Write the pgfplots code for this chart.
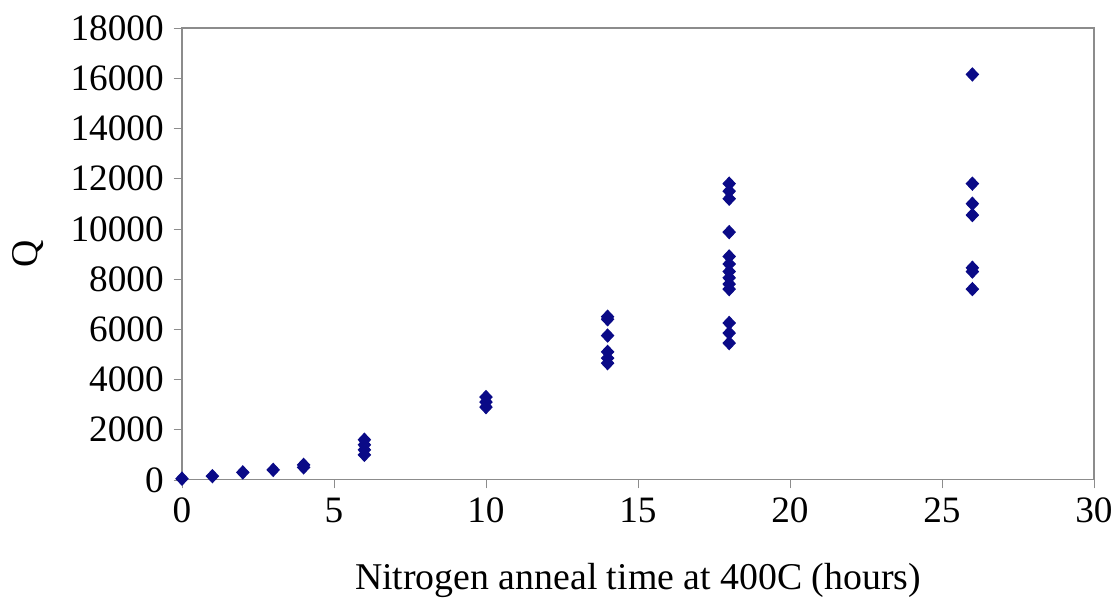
\documentclass[border=0pt]{standalone}
\usepackage{fontspec}
\setmainfont{Liberation Serif}
\usepackage{pgfplots}
\pgfplotsset{compat=1.18}
\definecolor{navy}{RGB}{10,10,135}
\begin{document}
\begin{tikzpicture}
\begin{axis}[
  name=ax,
  scale only axis,
  width=325.7pt, height=161.4pt,
  xmin=0, xmax=30, ymin=0, ymax=18000,
  xtick={0,5,...,30}, ytick={0,2000,...,18000},
  scaled ticks=false,
  /pgf/number format/assume math mode=true,
  /pgf/number format/set thousands separator={},
  tick label style={font=\fontsize{13.3}{15}\selectfont},
  label style={font=\fontsize{13.5}{16}\selectfont},
  xlabel={Nitrogen anneal time at 400C (hours)},
  ylabel={Q},
  xlabel style={at={(rel axis cs:0.5,0)}, anchor=center, yshift=-36pt},
  ylabel style={at={(rel axis cs:0,0.5)}, anchor=center, yshift=55pt},
  axis line style={draw=black!45},
  tick style={draw=black!45},
  tick align=outside, major tick length=3pt,
  xtick pos=bottom, ytick pos=left,
  clip=false,
]
\addplot[only marks, mark=diamond*, mark size=2.3pt, color=navy, mark options={fill=navy, draw=navy, xscale=1.25}]
coordinates {
(0,50)(1,150)(2,300)(3,400)(4,500)(4,600)
(6,1000)(6,1200)(6,1400)(6,1600)
(10,2900)(10,3100)(10,3300)
(14,6500)(14,6400)(14,5750)(14,5100)(14,4850)(14,4650)
(18,11800)(18,11500)(18,11200)(18,9870)(18,8900)(18,8600)(18,8300)(18,8050)(18,7800)(18,7600)(18,6250)(18,5850)(18,5450)
(26,16150)(26,11800)(26,11000)(26,10550)(26,8450)(26,8300)(26,7600)
};
\end{axis}
\pgfresetboundingbox
\path[use as bounding box] ([shift={(-65pt,-44.6pt)}]ax.south west) rectangle ([shift={(9.3pt,10pt)}]ax.north east);
\end{tikzpicture}
\end{document}
